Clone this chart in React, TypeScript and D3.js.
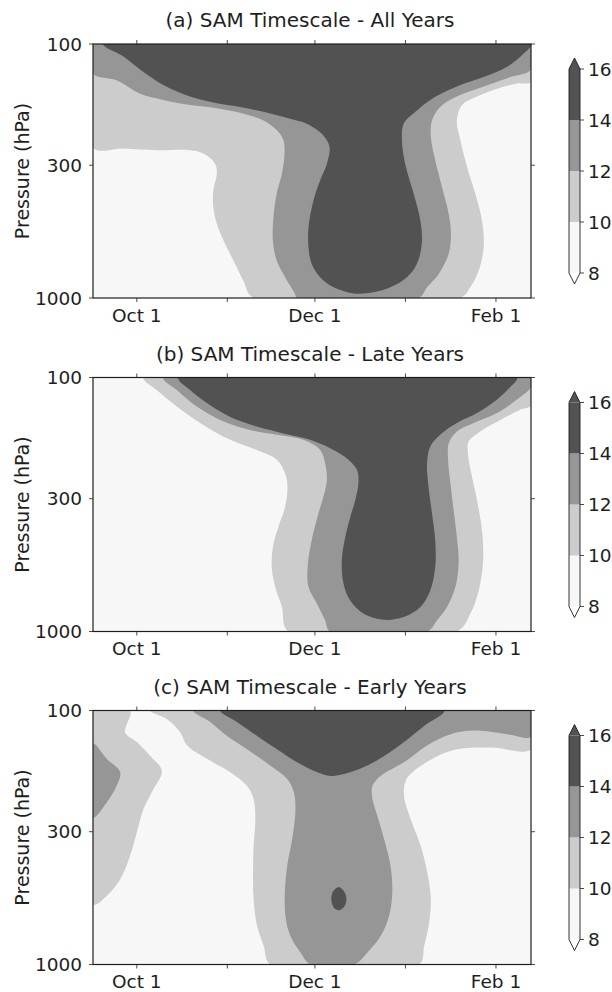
import * as d3 from 'd3';

type Pt = [number, number]; // [days since Sep 16, pressure in hPa]

const levels = [8, 10, 12, 14, 16];
const levelColors = ['#f7f7f7', '#cccccc', '#969696', '#525252'];
const panelTitles = [
  '(a) SAM Timescale - All Years',
  '(b) SAM Timescale - Late Years',
  '(c) SAM Timescale - Early Years',
];
const pressureTicks = [100, 300, 1000];
const labeledDates = ['Oct 1', 'Dec 1', 'Feb 1'];

// contour regions: each array is the area at or above a level
const allYears10: Pt[] = [
  [0, 256], [10.4, 258], [21.8, 262], [33.2, 262], [37.8, 270], [41.8, 296], [42.4, 324],
  [41.2, 377], [41.2, 439], [42.4, 510], [44.7, 594], [48.1, 712], [51.5, 855], [55, 1000],
  [125.8, 1000], [129.2, 908], [132.1, 780], [133.8, 631], [133.2, 495], [130.9, 388],
  [128.1, 305], [125.8, 239], [124.6, 200], [126.4, 174], [131.5, 161], [138.4, 150],
  [145.2, 143], [150, 141], [150, 100], [0, 100],
];
const allYears12: Pt[] = [
  [0, 131], [8.1, 139], [16.1, 157], [24.1, 166], [33.2, 174], [42.4, 179], [51.5, 188],
  [58.4, 200], [62.9, 218], [65.2, 239], [65.6, 270], [64.7, 324], [62.9, 388], [61.8, 481],
  [61.6, 594], [62.9, 712], [65.8, 828], [69.2, 964], [69.8, 1000], [111.5, 1000],
  [114.4, 908], [118.4, 804], [121.8, 670], [122.6, 559], [121.8, 466], [119.5, 366],
  [117.2, 287], [115.7, 232], [116.1, 200], [118.9, 177], [124.6, 161], [133.8, 147],
  [142.9, 135], [150, 126], [150, 100], [0, 100],
];
const allYears14: Pt[] = [
  [3.5, 100], [10.4, 112], [17.3, 129], [24.1, 145], [33.2, 161], [42.4, 171], [50.4, 177],
  [58.4, 185], [67.5, 197], [73.2, 206], [78.9, 229], [81, 254], [80.1, 296], [77.8, 344],
  [75.5, 413], [73.8, 526], [73.8, 631], [74.9, 734], [77.8, 828], [82.4, 908], [89.2, 959],
  [96.1, 950], [101.8, 908], [107.5, 828], [110.9, 734], [112.6, 612], [112.1, 495],
  [109.8, 388], [106.9, 296], [105.8, 239], [106.4, 206], [110.4, 185], [115.5, 166],
  [124.6, 147], [133.8, 135], [141.8, 123], [147.5, 109], [150, 100],
];

const lateYears10: Pt[] = [
  [17.3, 100], [21.8, 112], [28.7, 130], [36.7, 151], [47, 176], [56.1, 193], [63, 211],
  [65.8, 239], [66.6, 269], [65.8, 323], [63.5, 387], [61.6, 465], [61.2, 557], [62.4, 668],
  [64.7, 801], [66.9, 1000], [124.6, 1000], [129.2, 851], [132.1, 689], [133.6, 525],
  [133.2, 399], [131.5, 304], [129.8, 246], [128.4, 199], [128.6, 179], [132.6, 163],
  [139.5, 147], [146.3, 134], [150, 129], [150, 100],
];
const lateYears12: Pt[] = [
  [24.1, 100], [28.7, 112], [35.5, 130], [44.7, 149], [53.8, 161], [63, 168], [72.1, 176],
  [77.8, 193], [79.5, 218], [80.1, 253], [78.9, 295], [77.2, 343], [74.9, 437], [73.5, 557],
  [73.8, 668], [76.7, 778], [79.5, 905], [81.2, 1000], [114.4, 1000], [117.8, 905],
  [121.2, 801], [124.1, 668], [125.2, 540], [124.6, 424], [123.5, 333], [122.4, 261],
  [121.6, 211], [121.8, 182], [124.6, 163], [130.4, 151], [138.4, 138], [145.2, 122],
  [150, 109], [150, 100],
];
const lateYears14: Pt[] = [
  [29.2, 100], [33.2, 112], [39, 126], [47, 143], [56.1, 156], [65.2, 166], [74.4, 176],
  [81.2, 190], [86.9, 208], [90.4, 231], [90.9, 261], [89.8, 304], [88.1, 354], [86.4, 424],
  [85.2, 525], [85.8, 648], [88.1, 755], [92.7, 851], [99.5, 899], [106.4, 877], [112.1, 801],
  [115.5, 689], [117.2, 557], [117.2, 437], [116.1, 343], [114.9, 269], [114.4, 218],
  [115.5, 187], [118.9, 168], [124.6, 151], [131.5, 138], [138.4, 122], [142.9, 109],
  [145.2, 100],
];

const earlyYears10Left: Pt[] = [
  [0, 100], [12.7, 100], [11, 122], [15, 133], [19.6, 151], [23.6, 173], [20.7, 204],
  [17.3, 244], [15, 302], [12.7, 373], [9.3, 462], [4.7, 537], [0, 580],
];
const earlyYears10: Pt[] = [
  [19.6, 100], [25.3, 108], [29.9, 122], [32.2, 137], [39, 155], [47, 175], [52.7, 198],
  [55, 223], [55.6, 268], [55, 341], [54.8, 435], [55, 554], [56.2, 706], [58.5, 847],
  [60.8, 1000], [111.7, 1000], [113.4, 847], [115.1, 685], [115.7, 554], [114.5, 435],
  [112.2, 341], [108.8, 268], [106.5, 216], [107.1, 189], [109.4, 175], [118, 151],
  [124.8, 142], [136.3, 140], [150, 142], [150, 100],
];
const earlyYears12Left: Pt[] = [
  [0, 135], [4.7, 155], [9.3, 175], [8.1, 198], [4.7, 230], [0, 264],
];
const earlyYears12: Pt[] = [
  [34.4, 100], [40.2, 111], [45.9, 126], [52.7, 142], [60.8, 165], [66.5, 186], [68.8, 210],
  [69.3, 252], [68.2, 321], [66.5, 409], [65.7, 521], [65.9, 644], [67.6, 773], [71.1, 899],
  [74.5, 1000], [89.4, 1000], [93.9, 899], [98.5, 773], [101.4, 644], [102.5, 521],
  [101.9, 409], [99.7, 321], [97.4, 260], [95.7, 223], [95.7, 198], [98.5, 181],
  [106.5, 160], [114.5, 137], [122.5, 124], [130.5, 120], [142, 124], [150, 127], [150, 100],
];
const earlyYears14: Pt[] = [
  [43.6, 100], [49.3, 111], [56.2, 126], [63, 142], [69.9, 160], [76.8, 175], [81.4, 181],
  [85.9, 178], [92.8, 167], [99.7, 151], [106.5, 133], [113.4, 115], [120.3, 100],
];
const earlyYears14Core: Pt[] = [
  [84.2, 495], [85.9, 514], [86.8, 550], [86.2, 588], [84.2, 612], [82.5, 598], [81.6, 554],
  [82.3, 514],
];

const panelRegions: { level: number; pts: Pt[] }[][] = [
  [
    { level: 10, pts: allYears10 },
    { level: 12, pts: allYears12 },
    { level: 14, pts: allYears14 },
  ],
  [
    { level: 10, pts: lateYears10 },
    { level: 12, pts: lateYears12 },
    { level: 14, pts: lateYears14 },
  ],
  [
    { level: 10, pts: earlyYears10Left },
    { level: 10, pts: earlyYears10 },
    { level: 12, pts: earlyYears12Left },
    { level: 12, pts: earlyYears12 },
    { level: 14, pts: earlyYears14 },
    { level: 14, pts: earlyYears14Core },
  ],
];

const W = 612;
const H = 992;
const plotLeft = 93;
const plotRight = 531;
const plotHeight = 254;
const panelTops = [44, 377.5, 710.5];
const font = '"DejaVu Sans", sans-serif';
const ink = '#1e1e1e';

const seasonStart = Date.UTC(2000, 8, 16);
const seasonEnd = Date.UTC(2001, 1, 13);
const toDate = (day: number) => new Date(seasonStart + day * 864e5);

const x = d3.scaleUtc().domain([new Date(seasonStart), new Date(seasonEnd)]).range([plotLeft, plotRight]);
const monthTicks = x.ticks(d3.utcMonth.every(1)!);
const fmt = d3.utcFormat('%b %-d');

function colorFor(level: number) {
  return levelColors[levels.indexOf(level)];
}

function Panel({ index }: { index: number }) {
  const top = panelTops[index];
  const bottom = top + plotHeight;
  const y = d3.scaleLog().domain([100, 1000]).range([top, bottom]);
  const line = d3
    .line<Pt>()
    .x(d => x(toDate(d[0])))
    .y(d => y(d[1]))
    .curve(d3.curveCatmullRomClosed.alpha(0.5));

  const cb = d3.scaleLinear().domain([8, 16]).range([top + 229, top + 25]);
  const cbL = 569;
  const cbR = 580;
  const cbMid = (cbL + cbR) / 2;
  const tip = 11;
  const outline = `M${cbL},${cb(16)} L${cbMid},${cb(16) - tip} L${cbR},${cb(16)} L${cbR},${cb(8)} L${cbMid},${cb(8) + tip} L${cbL},${cb(8)} Z`;
  const clipId = `plot-clip-${index}`;

  return (
    <g>
      <text x={(plotLeft + plotRight) / 2 - 2} y={top - 17} textAnchor="middle" fontSize={20} fill={ink}>
        {panelTitles[index]}
      </text>
      <defs>
        <clipPath id={clipId}>
          <rect x={plotLeft} y={top} width={plotRight - plotLeft} height={plotHeight} />
        </clipPath>
      </defs>
      <g clipPath={`url(#${clipId})`}>
        <rect x={plotLeft} y={top} width={plotRight - plotLeft} height={plotHeight} fill={levelColors[0]} />
        {panelRegions[index].map((r, i) => (
          <path key={i} d={line(r.pts) || ''} fill={colorFor(r.level)} />
        ))}
      </g>
      <rect x={plotLeft} y={top} width={plotRight - plotLeft} height={plotHeight} fill="none" stroke={ink} strokeWidth={1.2} />

      {monthTicks.map((t, i) => (
        <g key={i}>
          <line x1={x(t)} x2={x(t)} y1={bottom} y2={bottom + 4} stroke={ink} strokeWidth={0.8} />
          <line x1={x(t)} x2={x(t)} y1={top} y2={top - 4} stroke={ink} strokeWidth={0.8} />
          {labeledDates.includes(fmt(t)) && (
            <text x={x(t)} y={bottom + 23.5} textAnchor="middle" fontSize={18.5} fill={ink}>
              {fmt(t)}
            </text>
          )}
        </g>
      ))}
      {pressureTicks.map(p => (
        <g key={p}>
          <line x1={plotLeft - 4} x2={plotLeft} y1={y(p)} y2={y(p)} stroke={ink} strokeWidth={0.8} />
          <line x1={plotRight} x2={plotRight + 4} y1={y(p)} y2={y(p)} stroke={ink} strokeWidth={0.8} />
          <text x={82} y={y(p)} dy="0.36em" textAnchor="end" fontSize={18.5} fill={ink}>
            {p}
          </text>
        </g>
      ))}
      <text
        transform={`translate(22,${(top + bottom) / 2}) rotate(-90)`}
        dy="0.36em"
        textAnchor="middle"
        fontSize={19}
        fill={ink}
      >
        Pressure (hPa)
      </text>

      {levelColors.map((c, i) => (
        <rect key={i} x={cbL} y={cb(levels[i + 1])} width={cbR - cbL} height={cb(levels[i]) - cb(levels[i + 1])} fill={c} />
      ))}
      <path d={`M${cbL},${cb(16)} L${cbMid},${cb(16) - tip} L${cbR},${cb(16)} Z`} fill={levelColors[3]} />
      <path d={`M${cbL},${cb(8)} L${cbMid},${cb(8) + tip} L${cbR},${cb(8)} Z`} fill="#ffffff" />
      <path d={outline} fill="none" stroke={ink} strokeWidth={0.9} />
      {levels.map(l => (
        <g key={l}>
          <line x1={cbR} x2={cbR + 4} y1={cb(l)} y2={cb(l)} stroke={ink} strokeWidth={0.8} />
          <text x={588} y={cb(l)} dy="0.36em" fontSize={18.5} fill={ink}>
            {l}
          </text>
        </g>
      ))}
    </g>
  );
}

export default function App() {
  return (
    <svg
      width={W}
      height={H}
      viewBox={`0 0 ${W} ${H}`}
      style={{ position: 'absolute', left: 0, top: 0, background: '#fff' }}
      fontFamily={font}
    >
      <rect width={W} height={H} fill="#fff" />
      {panelTitles.map((_, i) => (
        <Panel key={i} index={i} />
      ))}
    </svg>
  );
}
